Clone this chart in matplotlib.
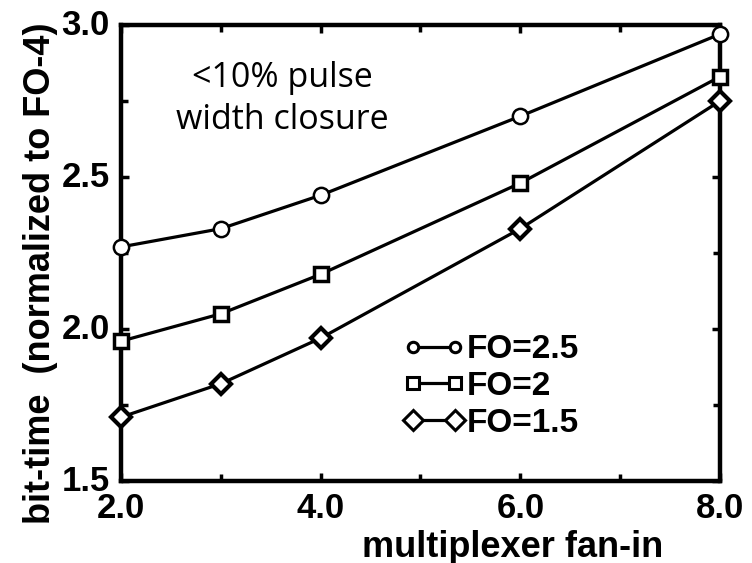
import matplotlib
matplotlib.use("Agg")
import matplotlib.pyplot as plt
from matplotlib.ticker import MultipleLocator, FormatStrFormatter
from matplotlib.transforms import ScaledTranslation

fan_in = [2, 3, 4, 6, 8]
fo_25 = [2.27, 2.33, 2.44, 2.70, 2.97]
fo_2 = [1.96, 2.05, 2.18, 2.48, 2.83]
fo_15 = [1.71, 1.82, 1.97, 2.33, 2.75]
series_labels = ["FO=2.5", "FO=2", "FO=1.5"]

W, H = 752, 563
fig = plt.figure(figsize=(W/100, H/100), dpi=100)
ax = fig.add_axes([121/W, (H-481)/H, 599/W, 456/H])

fam = ["Liberation Sans", "DejaVu Sans"]

ax.plot(fan_in, fo_25, color="black", lw=2.3, marker="o", ms=11, mfc="white", mec="black", mew=1.8, label=series_labels[0], clip_on=False, zorder=3)
ax.plot(fan_in, fo_2, color="black", lw=2.3, marker="s", ms=10, mfc="white", mec="black", mew=2.5, label=series_labels[1], clip_on=False, zorder=3)
ax.plot(fan_in, fo_15, color="black", lw=2.3, marker="D", ms=10, mfc="white", mec="black", mew=3.0, label=series_labels[2], clip_on=False, zorder=3)

ax.set_xlim(2, 8)
ax.set_ylim(1.5, 3.0)
ax.xaxis.set_major_locator(MultipleLocator(2))
ax.xaxis.set_minor_locator(MultipleLocator(1))
ax.yaxis.set_major_locator(MultipleLocator(0.5))
ax.yaxis.set_minor_locator(MultipleLocator(0.25))
ax.xaxis.set_major_formatter(FormatStrFormatter("%.1f"))
ax.yaxis.set_major_formatter(FormatStrFormatter("%.1f"))

for s in ax.spines.values():
    s.set_linewidth(3.2)
ax.tick_params(which="both", direction="in", top=True, right=True, width=2.5, color="black")
ax.tick_params(which="major", length=6, labelsize=25)
ax.tick_params(which="minor", length=5)
ax.tick_params(axis="x", which="major", pad=8)
ax.tick_params(axis="y", which="major", pad=8)
for lab in ax.get_xticklabels() + ax.get_yticklabels():
    lab.set_fontfamily(fam)
    lab.set_fontweight("bold")
for lab in ax.get_yticklabels():
    lab.set_transform(lab.get_transform() + ScaledTranslation(0, 3/100, fig.dpi_scale_trans))

ax.set_xlabel("multiplexer fan-in", fontsize=26, family=fam, weight="bold")
ax.xaxis.label.set_va("baseline")
ax.xaxis.set_label_coords(0.654, -0.166)

ax.set_ylabel("bit-time  (normalized to FO-4)", fontsize=26, family=fam, weight="bold")
ax.yaxis.label.set_va("center")
ax.yaxis.set_label_coords((41-121)/599, 0.456)

ax.text((282-121)/599, 0.92, "<10% pulse\nwidth closure", transform=ax.transAxes, fontsize=24.5,
        family=["Open Sans", "DejaVu Sans"], va="top", ha="center", multialignment="center",
        linespacing=1.28)

leg = ax.legend(loc="center left", bbox_to_anchor=(0.471, 0.207), frameon=False, numpoints=2,
                handlelength=1.86, handletextpad=0.05, labelspacing=0.17, borderaxespad=0,
                borderpad=0, prop=dict(family=fam, weight="bold", size=24))
for h, ms in zip(leg.legend_handles, [7.5, 9, 10]):
    h.set_markersize(ms)
    h.set_markeredgewidth(2.2)

fig.savefig("out.png", dpi=100)
